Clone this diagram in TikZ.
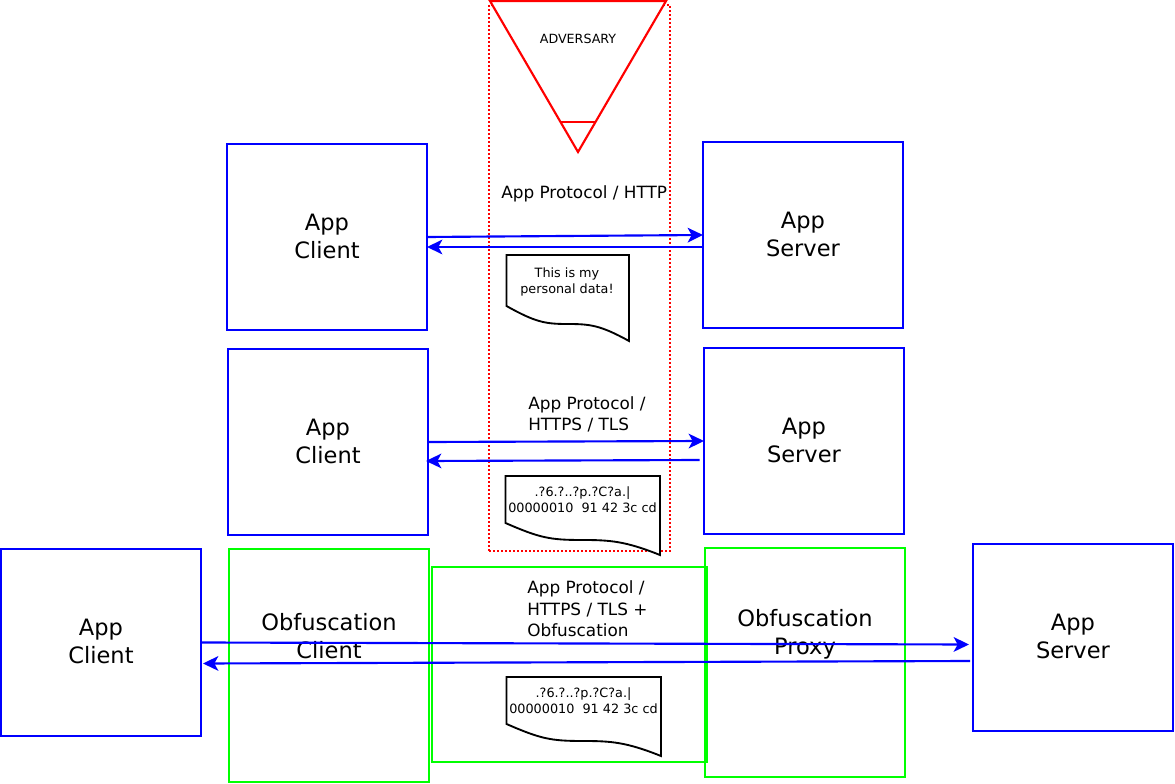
\documentclass[tikz,border=0pt]{standalone}
\usepackage{fontspec}
\setmainfont{DejaVu Sans}
\usetikzlibrary{arrows.meta,calc}
\tikzset{
  x=0.75pt,y=-0.75pt,
  box/.style={draw=#1,line width=1.65pt,minimum width=150pt,inner sep=0pt,outer sep=0pt,align=center,text depth=1.5pt,font=\fontsize{16.9}{21}\selectfont,text=black},
  flow/.style={draw=blue,line width=1.6pt,-{Stealth[length=11.5pt,width=11pt,inset=3pt]}},
  doc/.style={draw=black,line width=1.4pt,fill=white,line join=miter},
  proto/.style={anchor=west,inner sep=0pt,align=left,font=\fontsize{12.65}{16.1}\selectfont,text=black},
  small/.style={inner sep=0pt,align=center,font=\fontsize{9.6}{11.8}\selectfont,text=black},
  big/.style={inner sep=0pt,align=center,font=\fontsize{16.9}{21}\selectfont,text=black},
  boundary/.style={draw=red,line width=1.5pt,dash pattern=on 1.5pt off 1.5pt}
}
\begin{document}
\begin{tikzpicture}
\useasboundingbox (0,0) rectangle (1175,784);
% adversary zone
\node[boundary,minimum width=135.75pt,minimum height=409.5pt,inner sep=0pt] (zone) at (579.5,278) {};
\draw[red,fill=white,line width=1.6pt,line join=miter] (490,1) coordinate (tl) -- (666,1) coordinate (tr) -- (578,152) coordinate (tb) -- cycle;
\draw[red,line width=1.2pt] (561,122) coordinate (ml) -- (596,122) coordinate (mr);
\node[small,font=\fontsize{9.5}{11.8}\selectfont] (adv) at (578,39) {ADVERSARY};

% obfuscation boxes
\node[box=green,minimum height=174.75pt] (oc) at (329,665.5) {};
\node[box=green,minimum height=171.75pt] (op) at (805,662.5) {};
\node[draw=green,line width=1.65pt,minimum width=206.25pt,minimum height=146.25pt,inner sep=0pt,outer sep=0pt] (om) at (569.5,664.5) {};
\node[big] (oct) at (329,636) {Obfuscation\\Client};
\node[big] (opt) at (805,634.5) {Obfuscation\\Proxy};

% app boxes
\node[box=blue,minimum height=139.5pt] (c1) at (327,237) {App\\Client};
\node[box=blue,minimum height=139.5pt] (s1) at (803,235) {App\\Server};
\node[box=blue,minimum height=139.5pt] (c2) at (328,442) {App\\Client};
\node[box=blue,minimum height=139.5pt] (s2) at (804,441) {App\\Server};
\node[box=blue,minimum height=140.25pt] (c3) at (101,642.5) {App\\Client};
\node[box=blue,minimum height=140.25pt] (s3) at (1073,637.5) {App\\Server};

% labels
\node[proto] (l1) at (501,193.5) {App Protocol / HTTP};
\node[proto] (l2) at (528,414.5) {App Protocol /\\HTTPS / TLS};
\node[proto] (l3) at (527,609) {App Protocol /\\HTTPS / TLS +\\Obfuscation};

% documents
\draw[doc] (506.5,255) -- (629,255) -- (629,341) .. controls (600,325) and (590,324) .. (567,324) .. controls (545,324) and (535,322) .. (506.5,306) -- cycle;
\node[small] (d1) at (567,282) {This is my\\personal data!};
\draw[doc] (505.5,476) -- (660,476) -- (660,555) .. controls (625,541) and (610,540) .. (582,540) .. controls (550,540) and (540,538) .. (505.5,523) -- cycle;
\node[small] (d2) at (582.5,499.5) {.?6.?..?p.?C?a.|\\00000010\ \ 91 42 3c cd};
\draw[doc] (506.5,677) -- (661,677) -- (661,756) .. controls (626,742) and (611,741) .. (583,741) .. controls (551,741) and (541,739) .. (506.5,724) -- cycle;
\node[small] (d3) at (583.5,700.5) {.?6.?..?p.?C?a.|\\00000010\ \ 91 42 3c cd};

% connectors
\coordinate (r2a) at (699.5,460);
\coordinate (r2b) at (426,461);
\coordinate (f3) at (969,644.5);
\coordinate (r3a) at (970,661);
\coordinate (r3b) at (203,663.5);
\draw[flow] (c1.east) -- (s1.west);
\draw[flow] ([yshift=-9pt]s1.west) -- ([yshift=-7.5pt]c1.east);
\draw[flow] (c2.east) -- (s2.west);
\draw[flow] (r2a) -- (r2b);
\draw[flow] (c3.east) -- (f3);
\draw[flow] (r3a) -- (r3b);
\end{tikzpicture}
\end{document}
